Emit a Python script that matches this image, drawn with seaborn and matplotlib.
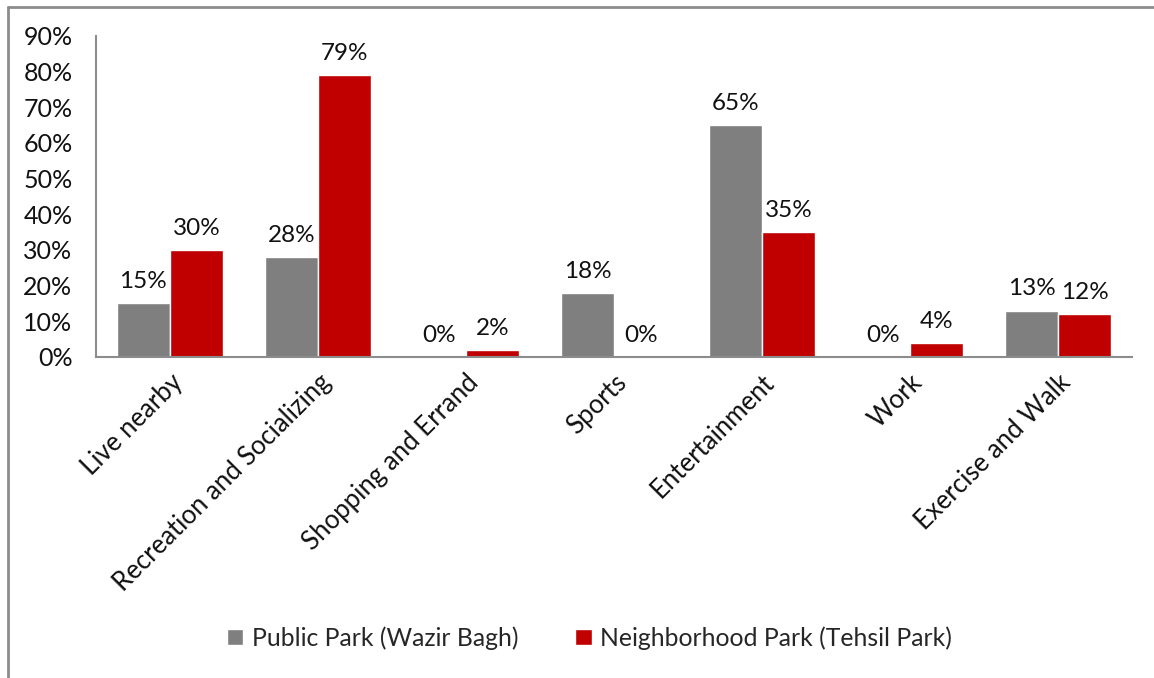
import matplotlib
matplotlib.use("Agg")
import matplotlib.pyplot as plt
import matplotlib.ticker as mtick
from matplotlib.lines import Line2D
import pandas as pd
import seaborn as sns

categories = ["Live nearby", "Recreation and Socializing", "Shopping and Errand",
              "Sports", "Entertainment", "Work", "Exercise and Walk"]
public_park = [15, 28, 0, 18, 65, 0, 13]
neighborhood_park = [30, 79, 2, 0, 35, 4, 12]
series_names = ["Public Park (Wazir Bagh)", "Neighborhood Park (Tehsil Park)"]
colors = ["#7F7F7F", "#C00000"]

df = pd.DataFrame({
    "reason": categories * 2,
    "share": public_park + neighborhood_park,
    "park": [series_names[0]] * len(categories) + [series_names[1]] * len(categories),
})

sns.set_style("white")
plt.rcParams["font.family"] = ["Lato", "DejaVu Sans"]

fig = plt.figure(figsize=(11.54, 6.78), dpi=100)
ax = fig.add_axes([0.0832, 0.4735, 0.8978, 0.4735])

sns.barplot(data=df, x="reason", y="share", hue="park", palette=colors,
            width=0.72, saturation=1, ax=ax, legend=True)

for cont in ax.containers:
    ax.bar_label(cont, fmt="%.0f%%", padding=8, fontsize=17.5, color="#111111")

ax.set_ylim(0, 90)
ax.set_yticks(range(0, 91, 10))
ax.yaxis.set_major_formatter(mtick.FuncFormatter(lambda v, _: f"{v:.0f}%"))
ax.tick_params(axis="y", labelsize=18, length=0, pad=17, colors="#111111")
ax.tick_params(axis="x", labelsize=18.5, length=0, pad=9, colors="#111111")
ax.set_xticks(range(len(categories)))
ax.set_xticklabels(categories, rotation=45, ha="right", rotation_mode="anchor")
ax.set_xlabel("")
ax.set_ylabel("")

for side in ["top", "right"]:
    ax.spines[side].set_visible(False)
for side in ["left", "bottom"]:
    ax.spines[side].set_color("#8C8C8C")
    ax.spines[side].set_linewidth(1.5)

ax.legend(loc="center", bbox_to_anchor=(0.511, 0.059), bbox_transform=fig.transFigure,
          ncol=2, frameon=False, fontsize=17.8, handlelength=0.65, handleheight=0.65,
          handletextpad=0.35, columnspacing=2.3)

# outer chart frame (top and left edges visible)
fig.add_artist(Line2D([8 / 1154, 8 / 1154], [0, 1 - 7 / 678], transform=fig.transFigure,
                      color="#8C8C8C", linewidth=2))
fig.add_artist(Line2D([8 / 1154, 1], [1 - 7 / 678, 1 - 7 / 678], transform=fig.transFigure,
                      color="#8C8C8C", linewidth=2))

fig.savefig("out.png", dpi=100)
